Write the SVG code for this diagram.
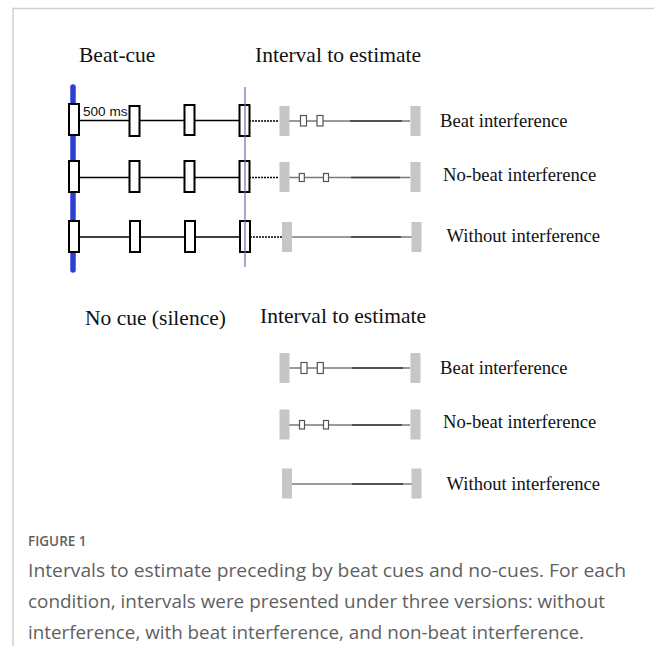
<svg xmlns="http://www.w3.org/2000/svg" width="654" height="646" viewBox="0 0 654 646">
<defs>
<style>
.frame{stroke:#cfcfcf;stroke-width:1.5;fill:none}
.lbl{font-family:"Liberation Serif","Times New Roman",serif;fill:#111}
.title{font-size:21.5px}
.side{font-size:18.6px}
.cue{fill:#fff;stroke:#000;stroke-width:2}
.gray{fill:#c6c6c6}
.small{fill:#fff;stroke:#555;stroke-width:1.2}
.line{stroke:#000;stroke-width:1.5;fill:none}
.dots{stroke:#000;stroke-width:1.5;stroke-dasharray:2 1;fill:none}
.iv{stroke:#7a7a7a;stroke-width:1.5;fill:none}
.ivd{stroke:#3a3a3a;stroke-width:1.6;fill:none}
.cap{font-family:"Open Sans","Noto Sans",sans-serif;fill:#5f5f5f}
</style>
</defs>
<rect width="654" height="646" fill="#fff"/>
<path class="frame" d="M13 646 V8.5 H654"/>

<g id="titles">
<text class="lbl title" x="79" y="62">Beat-cue</text>
<text class="lbl title" x="255" y="62">Interval to estimate</text>
<text class="lbl title" x="85" y="325">No cue (silence)</text>
<text class="lbl title" x="260" y="323">Interval to estimate</text>
</g>

<g id="connectors">
<line x1="73" y1="87" x2="73" y2="270" stroke="#2d3fd3" stroke-width="5.5" stroke-linecap="round"/>
<path class="line" d="M79 120.5 H239 M79 177.5 H239 M79 237 H239"/>
<path class="dots" d="M249 121 H279 M249 177.5 H279 M250 237 H282"/>
<path class="iv" d="M289 121 H410 M289 177.5 H410 M291 237 H412 M289 368 H410 M289 425 H410 M291 484 H412"/>
<path class="ivd" d="M350 121 H402 M351 177.5 H400 M351 237 H401 M352 368 H403 M352 425 H402 M352 484 H403"/>
</g>

<g id="cue-row1">
<rect class="cue" x="69" y="104" width="10" height="31"/>
<rect class="cue" x="129.5" y="106" width="10" height="30"/>
<rect class="cue" x="184.5" y="105" width="10" height="30"/>
<rect class="cue" x="239.5" y="105" width="10" height="31"/>
<text x="83" y="116" font-family="Liberation Sans,Arial,sans-serif" font-size="13.6" fill="#111">500 ms</text>
</g>
<g id="cue-row2">
<rect class="cue" x="69" y="161" width="10" height="31"/>
<rect class="cue" x="129.5" y="161" width="10" height="31"/>
<rect class="cue" x="184.5" y="161" width="10" height="31"/>
<rect class="cue" x="239.5" y="161" width="10" height="31"/>
</g>
<g id="cue-row3">
<rect class="cue" x="69" y="221" width="10" height="31"/>
<rect class="cue" x="130" y="221" width="10" height="31"/>
<rect class="cue" x="185" y="221" width="10" height="31"/>
<rect class="cue" x="240" y="221" width="10" height="31"/>
</g>
<line x1="245" y1="87" x2="245" y2="267" stroke="#6a6aae" stroke-width="1.2"/>

<g id="interval-beat-1">
<rect class="gray" x="279.5" y="106" width="10" height="30"/>
<rect class="gray" x="410.5" y="106" width="10" height="30"/>
<rect class="small" x="300.5" y="115.5" width="6" height="10.5"/>
<rect class="small" x="317" y="115.5" width="6" height="10.5"/>
<text class="lbl side" x="440" y="127">Beat interference</text>
</g>
<g id="interval-nobeat-1">
<rect class="gray" x="279.5" y="162" width="10" height="30"/>
<rect class="gray" x="410.5" y="162" width="10" height="30"/>
<rect class="small" x="299.3" y="173.5" width="5" height="8"/>
<rect class="small" x="323.5" y="173.5" width="5" height="8"/>
<text class="lbl side" x="443" y="181">No-beat interference</text>
</g>
<g id="interval-none-1">
<rect class="gray" x="282" y="222" width="10" height="30"/>
<rect class="gray" x="411.5" y="222" width="10" height="30"/>
<text class="lbl side" x="446.5" y="242">Without interference</text>
</g>

<g id="interval-beat-2">
<rect class="gray" x="279.5" y="353" width="10" height="30"/>
<rect class="gray" x="410.5" y="353" width="10" height="30"/>
<rect class="small" x="301" y="362.5" width="6" height="11"/>
<rect class="small" x="317.3" y="362.5" width="6" height="11"/>
<text class="lbl side" x="440" y="374">Beat interference</text>
</g>
<g id="interval-nobeat-2">
<rect class="gray" x="279.5" y="409.5" width="10" height="30"/>
<rect class="gray" x="410.5" y="409.5" width="10" height="30"/>
<rect class="small" x="299.5" y="420.5" width="5" height="8.5"/>
<rect class="small" x="323.5" y="420.5" width="5" height="8.5"/>
<text class="lbl side" x="443" y="428">No-beat interference</text>
</g>
<g id="interval-none-2">
<rect class="gray" x="282" y="468.5" width="10" height="30"/>
<rect class="gray" x="411.5" y="468.5" width="10" height="30"/>
<text class="lbl side" x="446.5" y="490">Without interference</text>
</g>

<g id="caption">
<text class="cap" x="28" y="546" font-size="13.5" font-weight="600" fill="#6a6a6a">FIGURE 1</text>
<text class="cap" x="28" y="577" font-size="19" textLength="598" lengthAdjust="spacingAndGlyphs">Intervals to estimate preceding by beat cues and no-cues. For each</text>
<text class="cap" x="28" y="608" font-size="19" textLength="577" lengthAdjust="spacingAndGlyphs">condition, intervals were presented under three versions: without</text>
<text class="cap" x="28" y="639" font-size="19" textLength="556" lengthAdjust="spacingAndGlyphs">interference, with beat interference, and non-beat interference.</text>
</g>
</svg>
